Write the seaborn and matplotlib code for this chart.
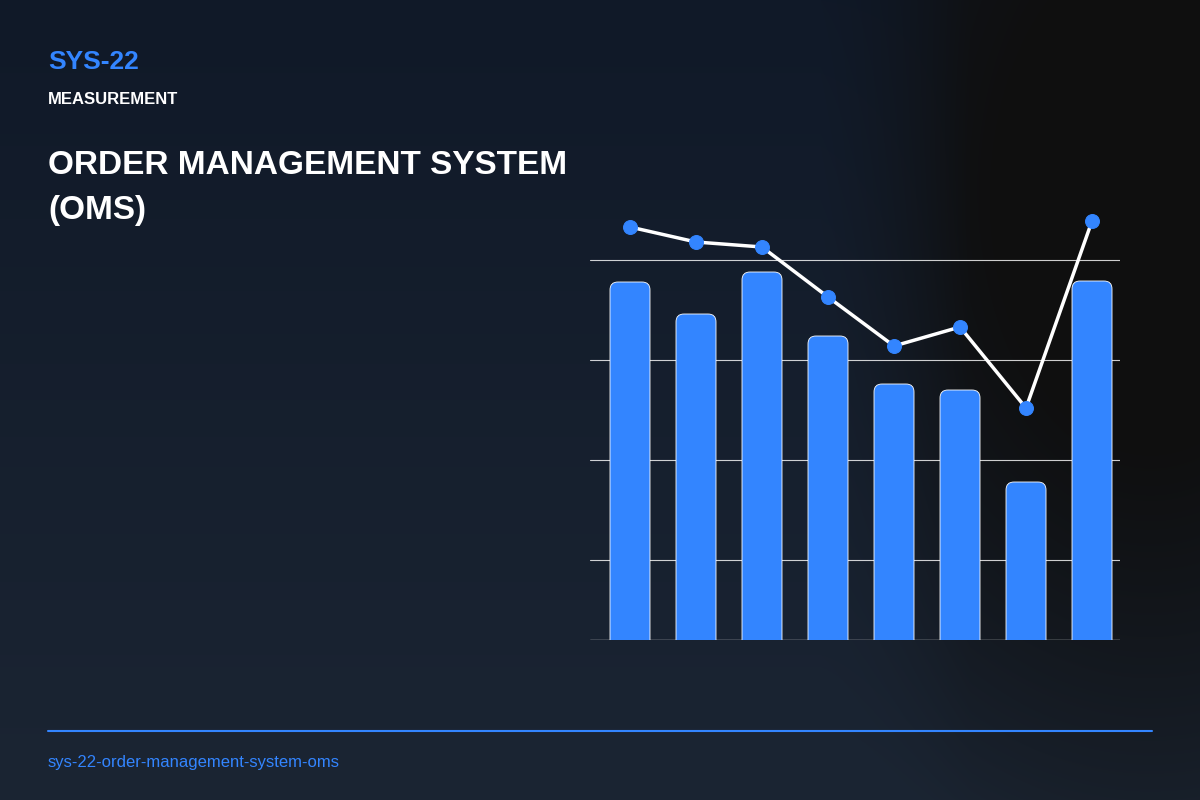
import numpy as np
import pandas as pd
import matplotlib
matplotlib.use("Agg")
import matplotlib.pyplot as plt
from matplotlib.patches import FancyBboxPatch
import seaborn as sns

categories = ["A", "B", "C", "D", "E", "F", "G", "H"]
bar_values = [75.6, 69.2, 77.6, 64.8, 55.2, 54.0, 35.6, 75.8]
line_values = [86.6, 83.6, 82.6, 72.6, 62.8, 66.6, 50.4, 87.8]
grid_ticks = [20, 40, 60, 80]

BLUE = "#3385ff"
sns.set_theme(style="white")
plt.rcParams['font.family'] = ['Liberation Sans', 'DejaVu Sans']

fig = plt.figure(figsize=(12, 8), dpi=100)

# background
bg = fig.add_axes([0, 0, 1, 1])
H, W = 800, 1200
yy, xx = np.mgrid[0:H, 0:W]
top = np.array([0x10, 0x19, 0x28]) / 255
bot = np.array([0x1b, 0x25, 0x33]) / 255
t = (yy / H)[..., None]
img = top * (1 - t) + bot * t
dark = np.array([0x0f, 0x0f, 0x0f]) / 255
d = np.sqrt(((xx - 1150) / 1.0) ** 2 + ((yy - 200) / 1.6) ** 2)
w = np.clip(1 - (d - 150) / 300, 0, 1)[..., None]
w = w * np.clip((xx - 820) / 150, 0, 1)[..., None]
img = img * (1 - w) + dark * w
bg.imshow(img, aspect="auto", extent=[0, 1, 0, 1])
bg.axis("off")

ax = fig.add_axes([590 / 1200, 0.2, 530 / 1200, 0.55])
ax.set_facecolor("none")
df = pd.DataFrame({"cat": categories, "val": bar_values})
sns.barplot(data=df, x="cat", y="val", ax=ax, color=BLUE, width=0.606)
for p in list(ax.patches):
    x0, y0, wd, ht = p.get_x(), 0, p.get_width(), p.get_height()
    p.set_visible(False)
    fb = FancyBboxPatch((x0, y0), wd, ht, boxstyle="round,pad=0,rounding_size=0.12",
                        mutation_aspect=13.2, facecolor=BLUE, edgecolor="white",
                        linewidth=0.6, zorder=3)
    ax.add_patch(fb)
sns.lineplot(x=np.arange(len(categories)), y=line_values, ax=ax, color="white",
             linewidth=2.5, marker="o", markersize=10, markerfacecolor=BLUE,
             markeredgecolor=BLUE, zorder=5)
for g in grid_ticks:
    ax.axhline(g, color="white", lw=0.8, alpha=0.8, zorder=1)
ax.axhline(4, color="white", lw=1, alpha=0.8, zorder=1)
ax.set_xlim(-0.606, 7.424)
ax.set_ylim(4, 92)
ax.set_xticks([]); ax.set_yticks([])
ax.set_xlabel(""); ax.set_ylabel("")
for s in ax.spines.values():
    s.set_visible(False)

fig.text(48 / 1200, 1 - 62 / 800, "SYS-22", color=BLUE, fontsize=19, fontweight="bold", va="center")
fig.text(48 / 1200, 1 - 99 / 800, "MEASUREMENT", color="white", fontsize=12, fontweight="bold", va="center")
fig.text(48 / 1200, 1 - 165 / 800, "ORDER MANAGEMENT SYSTEM", color="white", fontsize=24, fontweight="bold", va="center")
fig.text(48 / 1200, 1 - 211 / 800, "(OMS)", color="white", fontsize=24, fontweight="bold", va="center")
fig.add_artist(plt.Line2D([48 / 1200, 1152 / 1200], [1 - 731 / 800] * 2, color=BLUE, lw=1.5))
fig.text(48 / 1200, 1 - 762 / 800, "sys-22-order-management-system-oms", color=BLUE, fontsize=12, va="center")

fig.savefig("out.png", dpi=100)
